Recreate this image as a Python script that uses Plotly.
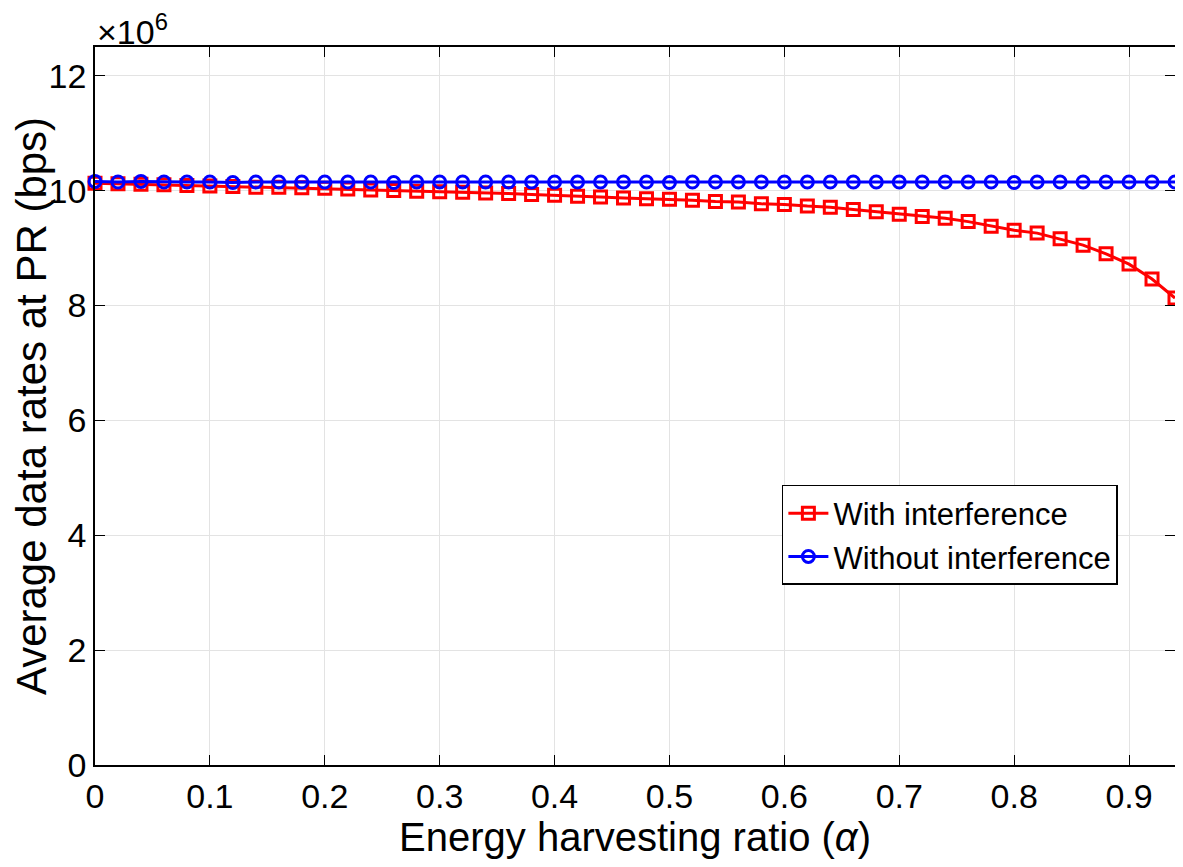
import plotly.graph_objects as go

alpha = [round(0.02 * i, 2) for i in range(48)]

with_interference = [10.13, 10.12, 10.11, 10.10, 10.09, 10.08, 10.07, 10.06, 10.06, 10.05,
                     10.04, 10.03, 10.01, 10.00, 9.99, 9.98, 9.97, 9.96, 9.95, 9.93,
                     9.92, 9.90, 9.89, 9.87, 9.86, 9.85, 9.83, 9.81, 9.80, 9.77,
                     9.76, 9.73, 9.71, 9.67, 9.63, 9.59, 9.55, 9.52, 9.46, 9.38,
                     9.31, 9.26, 9.16, 9.05, 8.90, 8.72, 8.46, 8.13]

without_interference = [10.16, 10.15, 10.16, 10.15, 10.15, 10.15, 10.14, 10.15, 10.15, 10.15,
                        10.15, 10.15, 10.15, 10.14, 10.15, 10.15, 10.15, 10.15, 10.15, 10.15,
                        10.15, 10.15, 10.15, 10.15, 10.15, 10.14, 10.15, 10.15, 10.15, 10.15,
                        10.15, 10.15, 10.15, 10.15, 10.15, 10.15, 10.15, 10.15, 10.15, 10.15,
                        10.14, 10.15, 10.15, 10.15, 10.15, 10.15, 10.15, 10.15]

x_ticks = [0, 0.1, 0.2, 0.3, 0.4, 0.5, 0.6, 0.7, 0.8, 0.9]
x_tick_labels = ["0", "0.1", "0.2", "0.3", "0.4", "0.5", "0.6", "0.7", "0.8", "0.9"]
y_ticks = [0, 2, 4, 6, 8, 10, 12]
y_tick_labels = ["0", "2", "4", "6", "8", "10", "12"]

FONT = "Liberation Sans, Arial, Helvetica, sans-serif"

fig = go.Figure()
fig.add_trace(go.Scatter(
    x=alpha, y=with_interference, mode="lines+markers", name="With interference",
    line=dict(color="#ff0000", width=3), cliponaxis=False,
    marker=dict(symbol="square-open", size=12, color="#ff0000", line=dict(width=3, color="#ff0000")),
))
fig.add_trace(go.Scatter(
    x=alpha, y=without_interference, mode="lines+markers", name="Without interference",
    line=dict(color="#0000ff", width=3), cliponaxis=False,
    marker=dict(symbol="circle-open", size=12, color="#0000ff", line=dict(width=3, color="#0000ff")),
))

axis_common = dict(
    showline=True, linecolor="black", linewidth=1.5, mirror="ticks",
    ticks="inside", ticklen=10, tickwidth=1.2, tickcolor="black",
    showgrid=True, gridcolor="#e3e3e3", gridwidth=1, zeroline=False,
    tickfont=dict(family=FONT, size=34, color="black"),
    automargin=False,
)

fig.update_xaxes(
    range=[0, 0.94], tickvals=x_ticks, ticktext=x_tick_labels,
    title=dict(text="Energy harvesting ratio (<i>α</i>)", font=dict(family=FONT, size=40, color="black"), standoff=6),
    **axis_common,
)
fig.update_yaxes(
    range=[0, 12.5], tickvals=y_ticks, ticktext=y_tick_labels,
    title=dict(text="Average data rates at PR (bps)", font=dict(family=FONT, size=42, color="black"), standoff=8),
    **axis_common,
)

fig.add_annotation(
    text="×10<sup>6</sup>", xref="paper", yref="paper", x=0, y=1.0,
    xanchor="left", yanchor="bottom", showarrow=False, yshift=-6, xshift=0,
    font=dict(family=FONT, size=34, color="black"),
)

fig.update_layout(
    width=1183, height=867,
    margin=dict(l=87, r=16, t=39, b=110),
    plot_bgcolor="white", paper_bgcolor="white",
    showlegend=True,
    legend=dict(
        x=0.636, y=0.39, xanchor="left", yanchor="top",
        bgcolor="white", bordercolor="black", borderwidth=1.5,
        font=dict(family=FONT, size=31, color="black"),
        itemwidth=40, tracegroupgap=0,
    ),
)

fig.write_html("out.html")
